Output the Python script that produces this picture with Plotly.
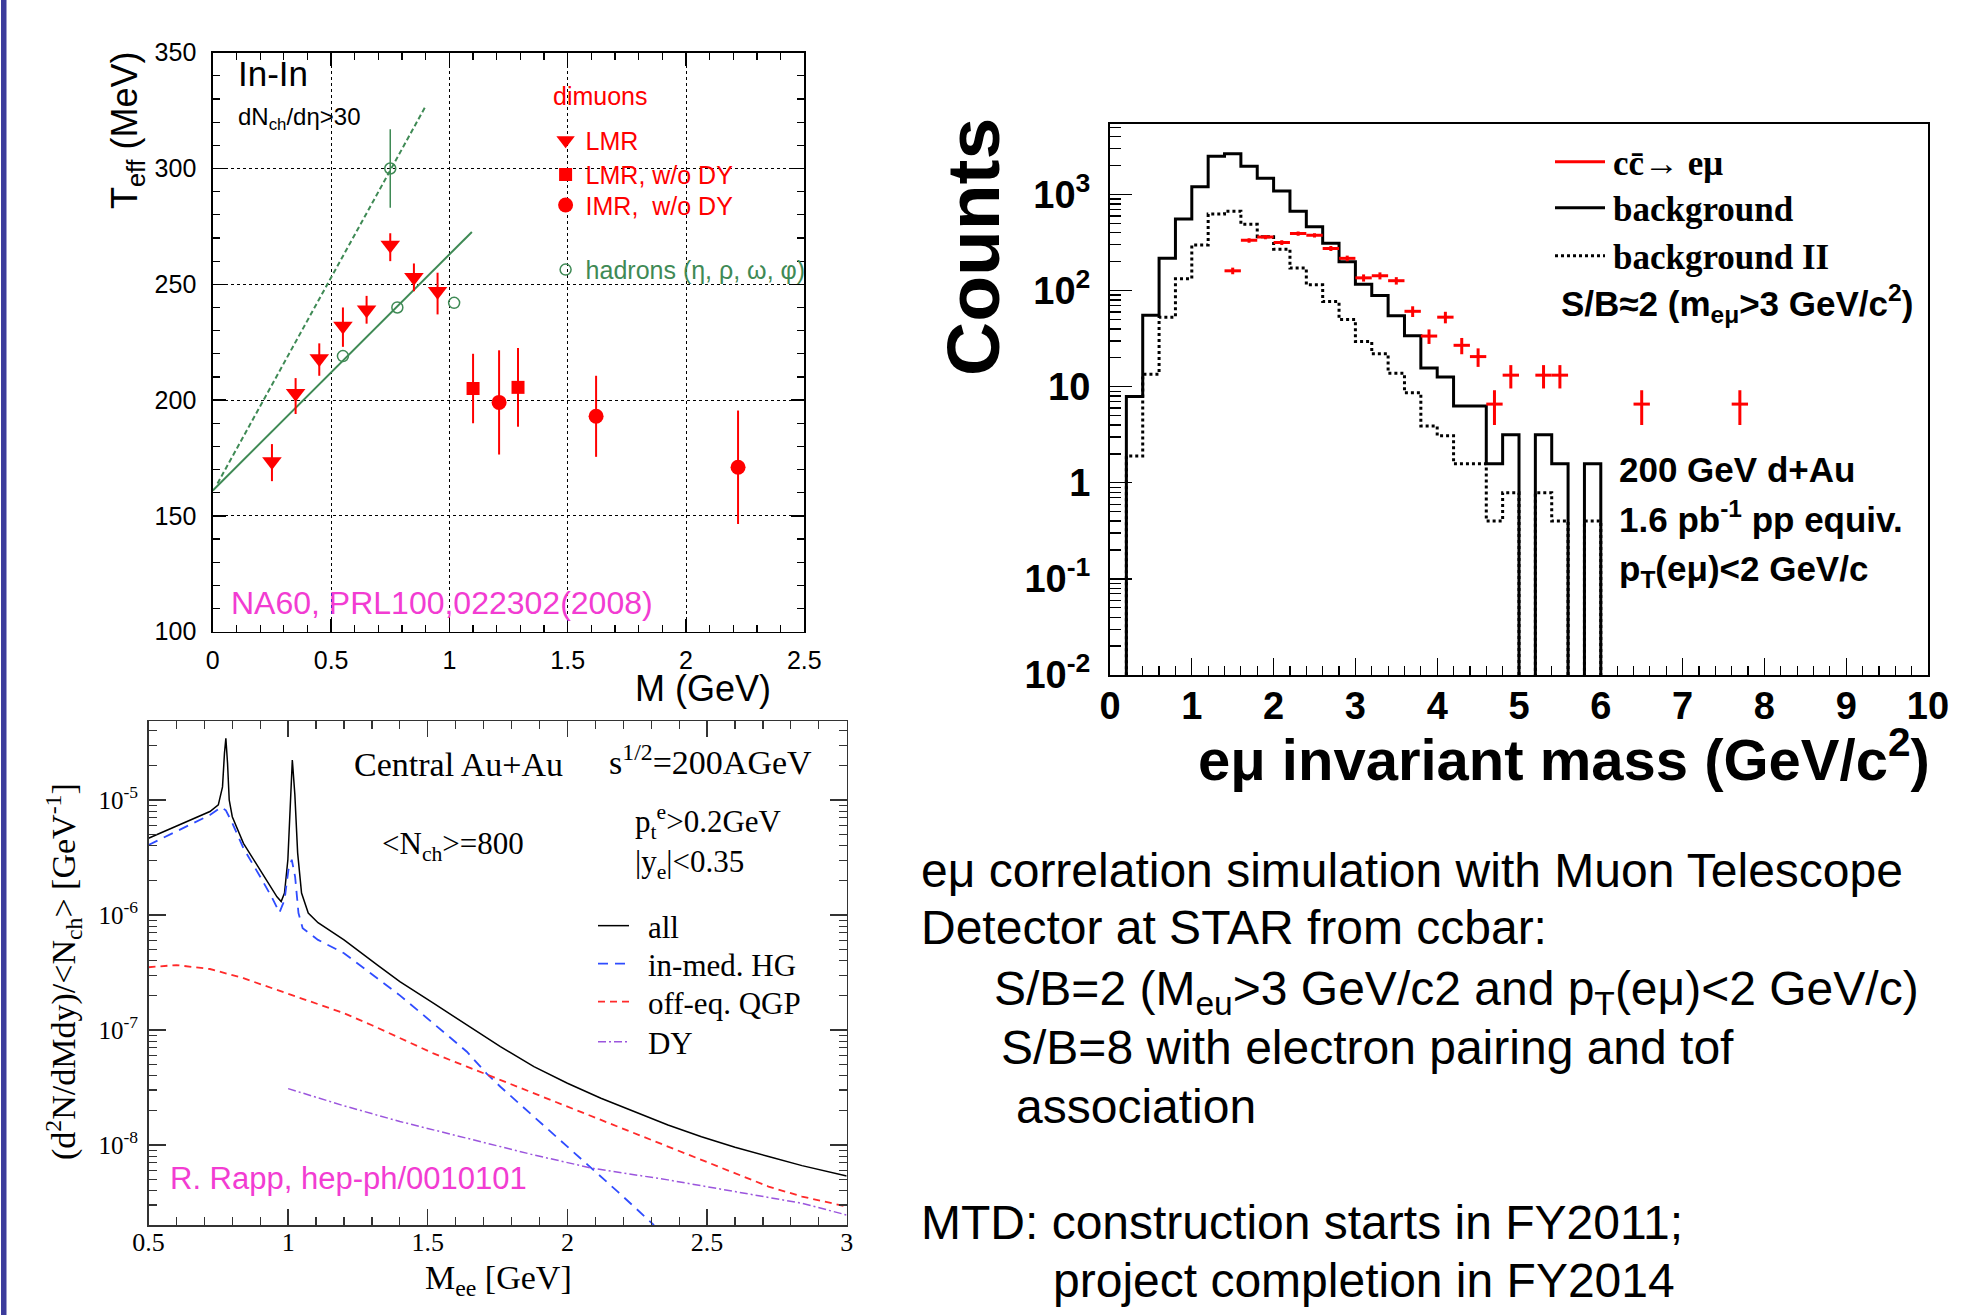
import plotly.graph_objects as go

W, H = 1986, 1315
def px(x): return x / W
def py(y): return 1 - y / H

ARIAL = "Liberation Sans, Arial, sans-serif"
TIMES = "Liberation Serif, Times New Roman, serif"
GREEN = "#3f8a55"
MAGENTA = "#f23cd2"

# ---------------- Top-left: NA60 T_eff vs M ----------------
lmr_m = [0.25, 0.35, 0.45, 0.55, 0.65, 0.75, 0.85, 0.95]
lmr_t = [173.5, 203, 218, 232, 239, 267, 253, 247]
lmr_ep = [7.5, 6.5, 6.5, 8, 6, 5, 6, 8]
lmr_em = [8.5, 9, 7.5, 9, 6, 7, 6, 10]
lmrdy_m = [1.10, 1.29]
lmrdy_t = [205, 205.5]
lmrdy_e = [15, 17]
imr_m = [1.21, 1.62, 2.22]
imr_t = [199, 193, 171]
imr_e = [22.5, 17.5, 24.5]
had_m = [0.55, 0.75, 0.78, 1.02]
had_t = [219, 300, 240, 242]
had_e = [0, 17, 0, 0]
fit_solid_m = [0.0, 1.095]
fit_solid_t = [161, 272.6]
fit_dash_m = [0.02, 0.90]
fit_dash_t = [164, 327]

# ---------------- Bottom-left: Rapp dilepton spectra ----------------
all_m = [0.5, 0.6, 0.72, 0.75, 0.765, 0.772, 0.777, 0.783, 0.789, 0.80, 0.84, 0.90, 0.96, 0.975,
         0.987, 0.999, 1.008, 1.015, 1.024, 1.034, 1.048, 1.072, 1.107, 1.2, 1.32, 1.4, 1.52, 1.64,
         1.76, 1.88, 2.0, 2.12, 2.24, 2.36, 2.48, 2.6, 2.72, 2.84, 3.0]
all_y = [4.65e-6, 5.94e-6, 7.94e-6, 9.06e-6, 1.30e-5, 2.55e-5, 3.44e-5, 2.09e-5, 1.0e-5, 7.16e-6,
         4.20e-6, 2.46e-6, 1.44e-6, 1.31e-6, 1.55e-6, 3.02e-6, 9.33e-6, 2.23e-5, 1.12e-5, 3.47e-6,
         1.55e-6, 1.04e-6, 8.57e-7, 6.07e-7, 3.67e-7, 2.63e-7, 1.71e-7, 1.10e-7, 7.16e-8, 4.80e-8,
         3.44e-8, 2.55e-8, 1.95e-8, 1.49e-8, 1.18e-8, 9.55e-9, 7.94e-9, 6.61e-9, 5.37e-9]
hg_m = [0.5, 0.6, 0.72, 0.76, 0.777, 0.80, 0.84, 0.90, 0.94, 0.969, 0.987, 1.001, 1.013, 1.025,
        1.037, 1.052, 1.107, 1.2, 1.32, 1.4, 1.52, 1.64, 1.71, 1.76, 1.88, 2.0, 2.09, 2.18, 2.31]
hg_y = [4.06e-6, 5.31e-6, 7.41e-6, 8.63e-6, 8.13e-6, 6.31e-6, 3.80e-6, 2.15e-6, 1.45e-6, 1.05e-6,
        1.35e-6, 2.46e-6, 3.02e-6, 2.15e-6, 1.04e-6, 7.66e-7, 6.07e-7, 4.65e-7, 2.82e-7, 2.0e-7,
        1.14e-7, 6.47e-8, 4.20e-8, 3.21e-8, 1.76e-8, 9.68e-9, 6.27e-9, 3.93e-9, 2.01e-9]
qgp_m = [0.5, 0.6, 0.72, 0.84, 0.96, 1.08, 1.2, 1.3, 1.4, 1.52, 1.64, 1.76, 1.88, 2.0, 2.12,
         2.24, 2.36, 2.48, 2.6, 2.72, 2.84, 3.0]
qgp_y = [3.51e-7, 3.67e-7, 3.39e-7, 2.82e-7, 2.23e-7, 1.76e-7, 1.40e-7, 1.10e-7, 8.47e-8, 6.26e-8,
         4.80e-8, 3.67e-8, 2.81e-8, 2.15e-8, 1.65e-8, 1.26e-8, 9.68e-9, 7.41e-9, 5.68e-9, 4.35e-9,
         3.56e-9, 2.91e-9]
dy_m = [1.0, 1.2, 1.4, 1.64, 1.88, 2.09, 2.36, 2.6, 2.84, 3.0]
dy_y = [3.09e-8, 2.19e-8, 1.60e-8, 1.14e-8, 8.18e-9, 6.27e-9, 4.97e-9, 3.93e-9, 3.11e-9, 2.46e-9]
bl_decades = [1e-8, 1e-7, 1e-6, 1e-5]
bl_decade_labels = ["10<sup>-8</sup>", "10<sup>-7</sup>", "10<sup>-6</sup>", "10<sup>-5</sup>"]

# ---------------- Right: e-mu invariant mass ----------------
mass_edges = [0.2, 0.4, 0.6, 0.8, 1.0, 1.2, 1.4, 1.6, 1.8, 2.0, 2.2, 2.4, 2.6, 2.8, 3.0,
              3.2, 3.4, 3.6, 3.8, 4.0, 4.2, 4.4, 4.6, 4.8, 5.0, 5.2, 5.4, 5.6, 5.8, 6.0]
bkg = [7.9, 55.6, 217, 556, 1205, 2500, 2655, 1975, 1478, 1088, 671, 462, 312, 200, 117,
       89, 55, 34, 15.7, 12.6, 6.3, 6.3, 1.58, 3.16, 0, 3.16, 1.58, 0, 1.58]
bkg2 = [1.9, 13.5, 53, 133, 299, 627, 671, 490, 364, 270, 172, 115, 77, 50, 29.5,
        22, 13.8, 8.65, 3.9, 3.1, 1.58, 1.58, 0.4, 0.79, 0, 0.79, 0.4, 0, 0.4]
cc_m = [1.5, 1.7, 1.9, 2.1, 2.3, 2.5, 2.7, 2.9, 3.1, 3.3, 3.5, 3.7, 3.9, 4.1, 4.3, 4.5,
        4.7, 4.9, 5.3, 5.5, 6.5, 7.7]
cc_n = [161, 334, 361, 317, 393, 377, 275, 217, 136, 143, 127, 61, 33.7, 53, 27, 20.6,
        6.6, 13.2, 13.2, 13.2, 6.6, 6.6]
cc_err = [12.7, 18.3, 19, 17.8, 19.8, 19.4, 16.6, 14.7, 11.7, 12, 11.3, 7.8, 5.8, 7.3, 5.2, 4.5,
          2.6, 3.6, 3.6, 3.6, 2.6, 2.6]
r_decades = [0.01, 0.1, 1, 10, 100, 1000]
r_decade_labels = ["10<sup>-2</sup>", "10<sup>-1</sup>", "1", "10", "10<sup>2</sup>", "10<sup>3</sup>"]
BIN_HALF = 0.1
TINY = 1e-4  # stands in for empty bins on the log axis


def hist_xy(edges, vals):
    xs = [edges[0]] + list(edges)
    ys = [TINY] + [v if v > 0 else TINY for v in vals] + [TINY]
    return xs, ys


fig = go.Figure()

# ---- top-left traces ----
fig.add_trace(go.Scatter(x=fit_dash_m, y=fit_dash_t, mode="lines", showlegend=False,
                         line=dict(color=GREEN, width=2, dash="5px,3px"), xaxis="x", yaxis="y"))
fig.add_trace(go.Scatter(x=fit_solid_m, y=fit_solid_t, mode="lines", showlegend=False,
                         line=dict(color=GREEN, width=2), xaxis="x", yaxis="y"))
fig.add_trace(go.Scatter(x=lmr_m, y=lmr_t, mode="markers", name="LMR", legend="legend",
                         marker=dict(symbol="triangle-down", size=17, color="red"),
                         error_y=dict(type="data", array=lmr_ep, arrayminus=lmr_em, color="red",
                                      thickness=2, width=0), xaxis="x", yaxis="y"))
fig.add_trace(go.Scatter(x=lmrdy_m, y=lmrdy_t, mode="markers", name="LMR, w/o DY", legend="legend2",
                         marker=dict(symbol="square", size=13, color="red"),
                         error_y=dict(type="data", array=lmrdy_e, color="red", thickness=2, width=0),
                         xaxis="x", yaxis="y"))
fig.add_trace(go.Scatter(x=imr_m, y=imr_t, mode="markers", name="IMR,  w/o DY", legend="legend3",
                         marker=dict(symbol="circle", size=15, color="red"),
                         error_y=dict(type="data", array=imr_e, color="red", thickness=2, width=0),
                         xaxis="x", yaxis="y"))
fig.add_trace(go.Scatter(x=had_m, y=had_t, mode="markers", name="hadrons (η, ρ, ω, φ)",
                         legend="legend4",
                         marker=dict(symbol="circle-open", size=11, color=GREEN, line=dict(width=1.5)),
                         error_y=dict(type="data", array=had_e, color=GREEN, thickness=1.5, width=0),
                         xaxis="x", yaxis="y"))

# ---- bottom-left traces ----
SP = "\u00a0\u2009"
fig.add_trace(go.Scatter(x=all_m, y=all_y, mode="lines", name=SP + "all", legend="legend5",
                         line=dict(color="black", width=1.5), xaxis="x2", yaxis="y2"))
fig.add_trace(go.Scatter(x=hg_m, y=hg_y, mode="lines", name=SP + "in-med. HG", legend="legend6",
                         line=dict(color="#2f4cff", width=1.8, dash="10px,7px"), xaxis="x2", yaxis="y2"))
fig.add_trace(go.Scatter(x=qgp_m, y=qgp_y, mode="lines", name=SP + "off-eq. QGP", legend="legend7",
                         line=dict(color="#ff2a2a", width=1.8, dash="7px,5px"), xaxis="x2", yaxis="y2"))
fig.add_trace(go.Scatter(x=dy_m, y=dy_y, mode="lines", name=SP + "DY", legend="legend8",
                         line=dict(color="#9b55dd", width=1.5, dash="8px,3px,2px,3px"),
                         xaxis="x2", yaxis="y2"))

# ---- right traces ----
hx2, hy2 = hist_xy(mass_edges, bkg2)
hx, hy = hist_xy(mass_edges, bkg)
fig.add_trace(go.Scatter(x=[None], y=[None], mode="lines", name="\u200acc̄→ eμ", legend="legend9",
                         line=dict(color="red", width=3), xaxis="x3", yaxis="y3"))
fig.add_trace(go.Scatter(x=hx2, y=hy2, mode="lines", line_shape="hv", name="\u200abackground II",
                         legend="legend11", line=dict(color="black", width=3, dash="dot"),
                         xaxis="x3", yaxis="y3"))
fig.add_trace(go.Scatter(x=hx, y=hy, mode="lines", line_shape="hv", name="\u200abackground",
                         legend="legend10", line=dict(color="black", width=3),
                         xaxis="x3", yaxis="y3"))
fig.add_trace(go.Scatter(x=cc_m, y=cc_n, mode="markers", showlegend=False,
                         marker=dict(size=2, color="red"),
                         error_x=dict(type="constant", value=BIN_HALF, color="red", thickness=3, width=0),
                         error_y=dict(type="data", array=cc_err, color="red", thickness=3, width=0),
                         xaxis="x3", yaxis="y3"))

# ---------------- axes ----------------
def lin_axis(domain, rng, dtick, minor_dtick, tlen, mlen, font, anchor, mirror="ticks", lw=1.5,
             grid=False, standoff=4, color="black"):
    d = dict(domain=domain, range=rng, dtick=dtick, tick0=0, ticks="inside", ticklen=tlen,
             tickwidth=1.3, tickcolor=color,
             minor=dict(ticks="inside", ticklen=mlen, dtick=minor_dtick, tickcolor=color, tickwidth=1.2),
             showline=True, linecolor=color, linewidth=lw, mirror=mirror, zeroline=False,
             tickfont=font, anchor=anchor, ticklabelstandoff=standoff, fixedrange=True,
             automargin=False)
    if grid:
        d.update(showgrid=True, gridcolor="black", griddash="dot", gridwidth=1)
    else:
        d.update(showgrid=False)
    return d


def log_axis(domain, rng, tickvals, ticktext, tlen, mlen, font, anchor, mirror="ticks", lw=1.5,
             standoff=4, color="black"):
    return dict(domain=domain, type="log", range=rng, tickmode="array", tickvals=tickvals,
                ticktext=ticktext,
                ticks="inside", ticklen=tlen, tickwidth=1.3, tickcolor=color,
                minor=dict(ticks="inside", ticklen=mlen, dtick="D1", tickcolor=color, tickwidth=1.2),
                showline=True, linecolor=color, linewidth=lw, mirror=mirror, zeroline=False,
                showgrid=False, tickfont=font, anchor=anchor, ticklabelstandoff=standoff,
                fixedrange=True, automargin=False)

f_tl = dict(family=ARIAL, size=25, color="black")
f_bl = dict(family=TIMES, size=26, color="black")
f_bly = dict(family=TIMES, size=25, color="black")
f_r = dict(family=ARIAL, size=38, color="black", weight="bold")


def leg(x, y, font, itemwidth=30):
    return dict(x=px(x), y=py(y), xanchor="left", yanchor="middle", bgcolor="rgba(0,0,0,0)",
                font=font, itemwidth=itemwidth)

lf_tl = dict(family=ARIAL, size=25, color="red")
lf_tlg = dict(family=ARIAL, size=25, color=GREEN)
lf_bl = dict(family=TIMES, size=31, color="black")
lf_r = dict(family=TIMES, size=35, color="black", weight="bold")

layout = dict(
    width=W, height=H, autosize=False,
    margin=dict(l=0, r=0, t=0, b=0, pad=0, autoexpand=False),
    paper_bgcolor="white", plot_bgcolor="white",
    xaxis=lin_axis([px(212.8), px(804.3)], [0, 2.5], 0.5, 0.1, 13, 7, f_tl, "y", grid=True, standoff=6),
    yaxis=lin_axis([py(631.7), py(52.7)], [100, 350], 50, 10, 13, 7, f_tl, "x", grid=True, standoff=10),
    xaxis2=lin_axis([px(148.5), px(846.7)], [0.5, 3.0], 0.5, 0.1, 16, 8, f_bl, "y2", standoff=-7,
                    color="#333333"),
    yaxis2=log_axis([py(1225), py(721)], [-8.696, -4.313], bl_decades, bl_decade_labels, 17, 8,
                    f_bly, "x2", standoff=4, color="#333333"),
    xaxis3=lin_axis([px(1110), px(1928)], [0, 10], 1, 0.2, 17, 9, f_r, "y3", mirror=True, lw=2,
                    standoff=-4),
    yaxis3=log_axis([py(675), py(123.5)], [-2, 3.74], r_decades, r_decade_labels, 22, 11, f_r, "x3",
                    mirror=True, lw=2, standoff=10),
    legend=leg(545.6, 140.6, lf_tl),
    legend2=leg(545.6, 174.8, lf_tl),
    legend3=leg(545.6, 205.2, lf_tl),
    legend4=leg(545.6, 269.8, lf_tlg),
    legend5=leg(593, 926, lf_bl, 31),
    legend6=leg(593, 964, lf_bl, 31),
    legend7=leg(593, 1002, lf_bl, 31),
    legend8=leg(593, 1042, lf_bl, 31),
    legend9=leg(1550, 162, lf_r, 50),
    legend10=leg(1550, 208, lf_r, 50),
    legend11=leg(1550, 256, lf_r, 50),
    showlegend=True,
)
fig.update_layout(**layout)


def ann(text, x, y, size, family=ARIAL, color="black", xanchor="left", yanchor="middle",
        angle=0, weight="normal"):
    return dict(text=text, x=px(x), y=py(y), xref="paper", yref="paper", showarrow=False,
                xanchor=xanchor, yanchor=yanchor, textangle=angle,
                font=dict(size=size, family=family, color=color, weight=weight))

annotations = [
    # top-left
    ann("In-In", 236, 73.5, 35),
    ann("dN<sub>ch</sub>/dη>30", 236, 118, 24),
    ann("dimuons", 551, 96.3, 25, color="red"),
    ann("NA60, PRL100,022302(2008)", 229, 603, 32, color=MAGENTA),
    ann("T<sub>eff</sub> (MeV)", 127, 130, 36, xanchor="center", angle=-90),
    ann("M (GeV)", 773, 688, 36, xanchor="right"),
    # bottom-left
    ann("Central Au+Au", 352, 764, 34, family=TIMES),
    ann("s<sup>1/2</sup>=200AGeV", 607, 760, 34, family=TIMES),
    ann("&lt;N<sub>ch</sub>&gt;=800", 380, 846, 31, family=TIMES),
    ann("p<sub>t</sub><sup>e</sup>&gt;0.2GeV", 633, 822, 31, family=TIMES),
    ann("|y<sub>e</sub>|&lt;0.35", 633, 864, 31, family=TIMES),
    ann("R. Rapp, hep-ph/0010101", 168, 1178, 31, color=MAGENTA),
    ann("(d<sup>2</sup>N/dMdy)/&lt;N<sub>ch</sub>&gt; [GeV<sup>-1</sup>]", 63, 972, 34,
        family=TIMES, xanchor="center", angle=-90),
    ann("M<sub>ee</sub> [GeV]", 498, 1280, 34, family=TIMES, xanchor="center"),
    # right plot
    ann("S/B≈2 (m<sub>eμ</sub>&gt;3 GeV/c<sup>2</sup>)", 1559, 304, 35, weight="bold"),
    ann("200 GeV d+Au", 1617, 470, 35, weight="bold"),
    ann("1.6 pb<sup>-1</sup> pp equiv.", 1617, 517, 35, weight="bold"),
    ann("p<sub>T</sub>(eμ)&lt;2 GeV/c", 1617, 571, 35, weight="bold"),
    ann("Counts", 973, 247, 75, xanchor="center", angle=-90, weight="bold"),
    ann("eμ invariant mass (GeV/c<sup>2</sup>)", 1932, 755, 58, xanchor="right", weight="bold"),
    # text block
    ann("eμ correlation simulation with Muon Telescope", 919, 870, 48),
    ann("Detector at STAR from ccbar:", 919, 928, 48),
    ann("S/B=2 (M<sub>eu</sub>&gt;3 GeV/c2 and p<sub>T</sub>(eμ)&lt;2 GeV/c)", 992, 992, 48),
    ann("S/B=8 with electron pairing and tof", 999, 1047, 48),
    ann("association", 1014, 1106, 48),
    ann("MTD: construction starts in FY2011;", 919, 1222, 48),
    ann("project completion in FY2014", 1051, 1280, 48),
]
fig.update_layout(annotations=annotations)

# slide's left border bar
fig.add_shape(type="rect", xref="paper", yref="paper", x0=px(1), x1=px(6.5), y0=0, y1=1,
              fillcolor="#3c3c9c", line=dict(width=0), layer="above")

fig.write_html("out.html", config={"displayModeBar": False, "staticPlot": True},
               post_script="document.body.style.margin='0';document.body.style.overflow='hidden';")
